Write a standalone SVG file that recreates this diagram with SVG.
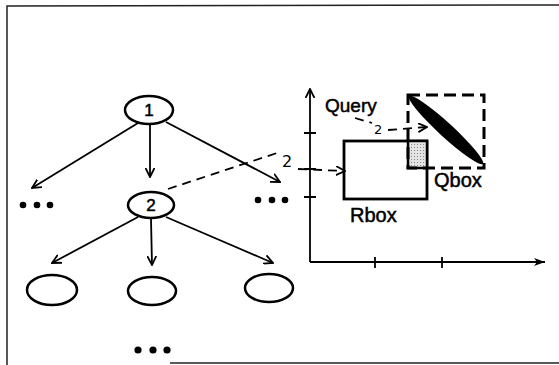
<svg xmlns="http://www.w3.org/2000/svg" width="559" height="365" viewBox="0 0 559 365">
<style>
.frame{stroke:#222;stroke-width:1.5;fill:none}
.node{fill:#fff;stroke:#000;stroke-width:2.5}
.edge{stroke:#000;stroke-width:1.8;fill:none}
.dash{stroke:#000;stroke-width:1.8;fill:none;stroke-dasharray:9 6}
.lbl{font-family:"Liberation Sans",Arial,sans-serif;fill:#000;stroke:#000;stroke-width:0.5}
.hand{font-family:"DejaVu Sans",sans-serif;fill:#000}
.dot{fill:#000}
</style>
<defs>
<marker id="arr" viewBox="0 0 10 10" refX="9" refY="5" markerWidth="10" markerHeight="10" markerUnits="userSpaceOnUse" orient="auto">
<path d="M0,0.5 L9,5 L0,9.5" fill="none" stroke="#000" stroke-width="1.8"/>
</marker>
<marker id="arrf" viewBox="0 0 12 10" refX="11" refY="5" markerWidth="13" markerHeight="10" markerUnits="userSpaceOnUse" orient="auto">
<path d="M0,1 L11,5 L0,9 L3,5 Z" fill="#000"/>
</marker>
<pattern id="stip" width="3" height="3" patternUnits="userSpaceOnUse">
<rect width="3" height="3" fill="#e4e4e4"/>
<rect width="1" height="1" fill="#888"/>
</pattern>
</defs>

<g id="frame">
<path class="frame" d="M7,365 L7,6 L559,5"/>
<path class="frame" d="M170,363 L559,363"/>
</g>

<g id="connectors">
<path class="edge" marker-end="url(#arr)" d="M138,123 L32,188"/>
<path class="edge" marker-end="url(#arr)" d="M150,125 L150,177"/>
<path class="edge" marker-end="url(#arr)" d="M166,122 L280,182"/>
<path class="edge" marker-end="url(#arr)" d="M138,217 L52,263"/>
<path class="edge" marker-end="url(#arr)" d="M151,219 L152,265"/>
<path class="edge" marker-end="url(#arr)" d="M166,217 L273,263"/>
<path class="dash" d="M168,189 L280,152"/>
<path class="dash" marker-end="url(#arr)" d="M298,169 L345,171"/>
<path class="dash" d="M355,118 L372,123"/>
<path class="dash" marker-end="url(#arr)" d="M388,130 L427,127"/>
</g>

<g id="node-1">
<ellipse class="node" cx="149" cy="110" rx="24" ry="14"/>
<text class="lbl" x="149" y="116" font-size="17" text-anchor="middle">1</text>
</g>
<g id="node-2">
<ellipse class="node" cx="151" cy="205" rx="23" ry="13"/>
<text class="lbl" x="151" y="211" font-size="17" text-anchor="middle">2</text>
</g>
<g id="leaf-1"><ellipse class="node" cx="52" cy="290" rx="25" ry="15"/></g>
<g id="leaf-2"><ellipse class="node" cx="152" cy="291" rx="24" ry="14"/></g>
<g id="leaf-3"><ellipse class="node" cx="269" cy="288" rx="24" ry="14"/></g>

<g id="dots-left">
<circle class="dot" cx="23" cy="205" r="3.3"/><circle class="dot" cx="37" cy="205" r="3.3"/><circle class="dot" cx="50" cy="205" r="3.3"/>
</g>
<g id="dots-right">
<circle class="dot" cx="258" cy="200" r="3.3"/><circle class="dot" cx="272" cy="200" r="3.3"/><circle class="dot" cx="285" cy="200" r="3.3"/>
</g>
<g id="dots-bottom">
<circle class="dot" cx="138" cy="350" r="3.6"/><circle class="dot" cx="153" cy="350" r="3.6"/><circle class="dot" cx="167" cy="350" r="3.6"/>
</g>

<g id="labels-hand">
<text class="hand" x="282" y="167" font-size="16">2</text>
<text class="hand" x="374" y="134" font-size="13">2</text>
</g>

<g id="axes">
<path class="edge" marker-end="url(#arr)" d="M310,262 L310,89"/>
<path class="edge" stroke-width="1.5" marker-end="url(#arrf)" d="M310,262 L545,262"/>
<path class="edge" stroke-width="1.2" d="M304,133 L316,133 M304,169 L316,169 M304,197 L316,197 M375,257 L375,268 M442,257 L442,268"/>
</g>

<g id="rbox">
<rect x="344" y="141" width="83" height="58" fill="none" stroke="#000" stroke-width="2.8"/>
<text class="lbl" x="350" y="222" font-size="20">Rbox</text>
</g>

<g id="overlap">
<rect x="408" y="141" width="19" height="27" fill="url(#stip)" stroke="#000" stroke-width="2.5"/>
</g>

<g id="qbox">
<rect x="408" y="95" width="76" height="73" fill="none" stroke="#000" stroke-width="3" stroke-dasharray="12 6"/>
<text class="lbl" x="434" y="187" font-size="20">Qbox</text>
</g>

<g id="query">
<ellipse cx="446" cy="130" rx="50" ry="7" transform="rotate(42.5 446 130)" fill="#000"/>
<text class="lbl" x="325" y="112" font-size="19">Query</text>
</g>
</svg>
